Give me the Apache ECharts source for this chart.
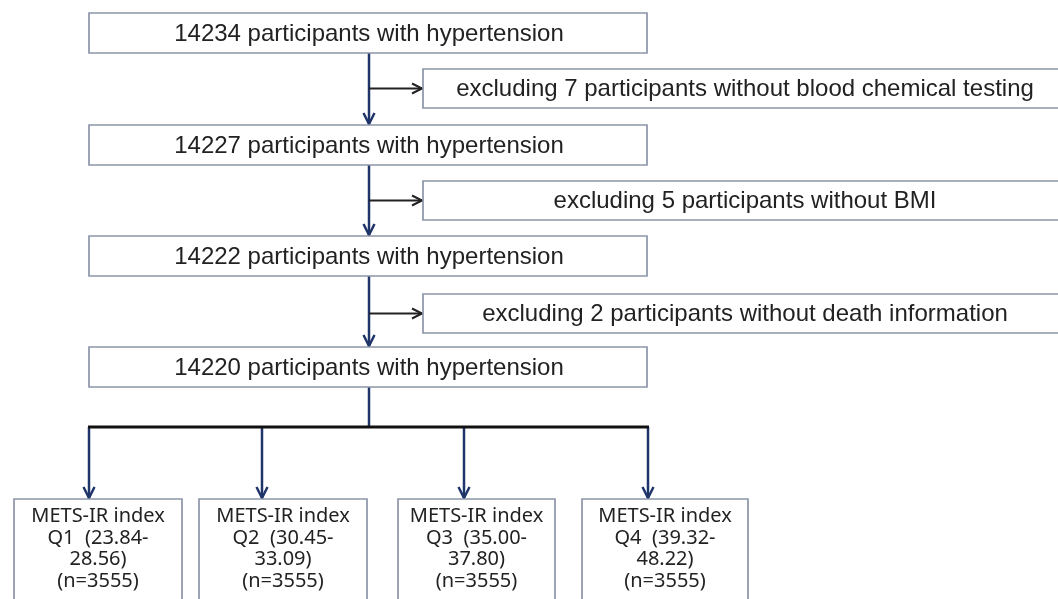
<!DOCTYPE html>
<html>
<head>
<meta charset="utf-8">
<script src="https://cdn.jsdelivr.net/npm/echarts@6/dist/echarts.min.js"></script>
<style>
  html, body { margin: 0; padding: 0; background: #fff; }
  #flow { width: 1058px; height: 599px; }
</style>
</head>
<body>
<div id="flow"></div>
<script>
// data
const mainCounts = [14234, 14227, 14222, 14220];
const excludedCounts = [7, 5, 2];
const excludedReasons = ['blood chemical testing', 'BMI', 'death information'];
const quartiles = ['Q1', 'Q2', 'Q3', 'Q4'];
const rangeLow = ['23.84', '30.45', '35.00', '39.32'];
const rangeHigh = ['28.56', '33.09', '37.80', '48.22'];
const quartileN = [3555, 3555, 3555, 3555];

// layout (axis units = px of the figure)
const mainBox = { left: 89, right: 647, height: 40, tops: [13, 125, 236, 347] };
const exclBox = { left: 423, right: 1067, height: 39, tops: [69, 181, 294] };
const quartBox = { lefts: [14, 199, 398, 582], rights: [182, 367, 555, 748], top: 499, bottom: 612 };
const stemX = 369, busY = 427;
const dropXs = [89, 262, 464, 648];

const NAVY = '#1f3468', BORDER = '#8c95a8', INK = '#222';

let chart = echarts.init(document.getElementById('flow'));

function box(api, x0, y0, x1, y1) {
  let p0 = api.coord([x0, y0]), p1 = api.coord([x1, y1]);
  return { type: 'rect', shape: { x: p0[0], y: p0[1], width: p1[0] - p0[0], height: p1[1] - p0[1] },
    style: { fill: '#fff', stroke: BORDER, lineWidth: 1.7 } };
}
function seg(api, a, b, color, w) {
  let p0 = api.coord(a), p1 = api.coord(b);
  return { type: 'line', shape: { x1: p0[0], y1: p0[1], x2: p1[0], y2: p1[1] },
    style: { stroke: color, lineWidth: w } };
}
// arrow head, dir 'down' or 'right'
function head(api, tip, dir, color, w) {
  let p = api.coord(tip);
  let pts = dir === 'down'
    ? [[p[0] - 5.5, p[1] - 11], [p[0], p[1]], [p[0] + 5.5, p[1] - 11]]
    : [[p[0] - 10, p[1] - 5], [p[0], p[1]], [p[0] - 10, p[1] + 5]];
  return { type: 'polyline', shape: { points: pts }, style: { stroke: color, lineWidth: w, fill: null } };
}
function label(api, x, y, text, font, extra) {
  let p = api.coord([x, y]);
  return { type: 'text', style: Object.assign({ x: p[0], y: p[1], text: text, font: font, fill: INK,
    align: 'center', verticalAlign: 'middle' }, extra || {}) };
}

let option = {
  animation: false,
  grid: { left: 0, right: 0, top: 0, bottom: 0 },
  xAxis: { type: 'value', min: 0, max: 1058, show: false },
  yAxis: { type: 'value', min: 0, max: 599, inverse: true, show: false },
  series: [
    {
      // connectors
      type: 'custom', name: 'links', z: 1,
      data: [[0]],
      renderItem: function (params, api) {
        let kids = [];
        for (let i = 0; i < excludedCounts.length; i++) {
          let y0 = mainBox.tops[i] + mainBox.height, y1 = mainBox.tops[i + 1];
          let ym = exclBox.tops[i] + exclBox.height / 2;
          kids.push(seg(api, [stemX, y0], [stemX, y1 - 1], NAVY, 2.5));
          kids.push(head(api, [stemX, y1 - 1], 'down', NAVY, 2.5));
          kids.push(seg(api, [stemX, ym], [exclBox.left - 1, ym], INK, 2));
          kids.push(head(api, [exclBox.left - 1, ym], 'right', INK, 2));
        }
        let last = mainBox.tops[mainBox.tops.length - 1] + mainBox.height;
        kids.push(seg(api, [stemX, last], [stemX, busY], NAVY, 2.5));
        dropXs.forEach(function (x) {
          kids.push(seg(api, [x, busY], [x, quartBox.top - 1], NAVY, 2.5));
          kids.push(head(api, [x, quartBox.top - 1], 'down', NAVY, 2.5));
        });
        kids.push(seg(api, [dropXs[0] - 1, busY], [dropXs[3] + 1, busY], '#111', 3));
        return { type: 'group', children: kids };
      }
    },
    {
      type: 'custom', name: 'main', z: 2,
      data: mainCounts.map(function (v, i) { return [i]; }),
      renderItem: function (params, api) {
        let i = params.dataIndex, t = mainBox.tops[i];
        return { type: 'group', children: [
          box(api, mainBox.left, t, mainBox.right, t + mainBox.height),
          label(api, stemX, t + mainBox.height / 2 + 1, mainCounts[i] + ' participants with hypertension',
            '24px "Liberation Sans", Arial, sans-serif')
        ] };
      }
    },
    {
      type: 'custom', name: 'excluded', z: 2,
      data: excludedCounts.map(function (v, i) { return [i]; }),
      renderItem: function (params, api) {
        let i = params.dataIndex, t = exclBox.tops[i];
        return { type: 'group', children: [
          box(api, exclBox.left, t, exclBox.right, t + exclBox.height),
          label(api, (exclBox.left + exclBox.right) / 2, t + exclBox.height / 2 + 1,
            'excluding ' + excludedCounts[i] + ' participants without ' + excludedReasons[i],
            '24px "Liberation Sans", Arial, sans-serif')
        ] };
      }
    },
    {
      type: 'custom', name: 'quartiles', z: 2,
      data: quartiles.map(function (v, i) { return [i]; }),
      renderItem: function (params, api) {
        let i = params.dataIndex;
        let x0 = quartBox.lefts[i], x1 = quartBox.rights[i];
        let txt = 'METS-IR index\n' + quartiles[i] + '  (' + rangeLow[i] + '-\n' + rangeHigh[i] + ')\n(n=' + quartileN[i] + ')';
        return { type: 'group', children: [
          box(api, x0, quartBox.top, x1, quartBox.bottom),
          label(api, (x0 + x1) / 2, 506, txt, '20px "Noto Sans", "Noto Sans CJK SC", sans-serif',
            { verticalAlign: 'top', lineHeight: 21.5 })
        ] };
      }
    }
  ]
};

chart.setOption(option);
</script>
</body>
</html>
